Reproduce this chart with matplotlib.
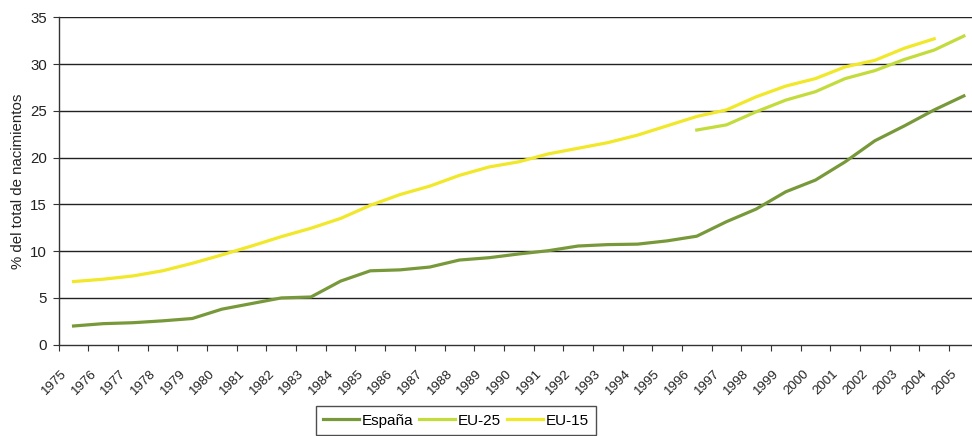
import numpy as np
import matplotlib
matplotlib.use('Agg')
import matplotlib.pyplot as plt
import matplotlib.transforms as mtransforms

plt.rcParams['font.family'] = ['Liberation Sans', 'DejaVu Sans']

years = list(range(1975, 2006))

espana = [2.0, 2.25, 2.35, 2.55, 2.8, 3.8, 4.4, 5.0, 5.1, 6.8, 7.9, 8.0, 8.3,
          9.05, 9.3, 9.7, 10.05, 10.55, 10.7, 10.75, 11.1, 11.6, 13.15, 14.5,
          16.35, 17.6, 19.55, 21.8, 23.4, 25.1, 26.6]

eu15 = [6.75, 7.0, 7.35, 7.9, 8.7, 9.6, 10.55, 11.55, 12.45, 13.5, 14.9, 16.05,
        16.95, 18.1, 19.0, 19.55, 20.4, 21.0, 21.6, 22.4, 23.4, 24.4, 25.1,
        26.5, 27.65, 28.45, 29.7, 30.4, 31.7, 32.7, np.nan]

eu25 = [np.nan] * 21 + [22.95, 23.5, 24.9, 26.15, 27.05, 28.45, 29.3, 30.5,
                         31.5, 33.0]

fig = plt.figure(figsize=(9.72, 4.36), dpi=100)
ax = fig.add_axes([0.0604, 0.2094, 0.9465, 0.7509])

x = np.arange(len(years))
ax.plot(x, espana, color='#78993a', lw=2.3, label='España', zorder=3)
ax.plot(x, eu25, color='#c3dc3c', lw=2.3, label='EU-25', zorder=3)
ax.plot(x, eu15, color='#f0e828', lw=2.3, label='EU-15', zorder=3)

ax.set_xlim(-0.5, len(years) - 0.5)
ax.set_ylim(0, 35)
ax.set_yticks(range(0, 36, 5))
for v in range(5, 36, 5):
    ax.axhline(v, color='#222222', lw=1.0, zorder=1)

ax.set_xticks(np.arange(len(years) + 1) - 0.5)
ax.set_xticklabels([])
ax.tick_params(axis='x', direction='out', length=4, color='#333333')
ax.tick_params(axis='y', direction='out', length=4, color='#333333',
               labelsize=10.8, labelcolor='#222222', pad=4.5)

offs = mtransforms.ScaledTranslation(-13 / 100, -23 / 100, fig.dpi_scale_trans)
for i, yr in enumerate(years):
    ax.text(i, 0, str(yr), rotation=45, ha='right', va='top',
            rotation_mode='anchor', fontsize=9.6, color='#222222',
            transform=ax.get_xaxis_transform() + offs)

for s in ['top', 'right']:
    ax.spines[s].set_visible(False)
for s in ['left', 'bottom']:
    ax.spines[s].set_color('#333333')
    ax.spines[s].set_linewidth(1.0)

ax.set_ylabel('% del total de nacimientos', fontsize=10.8, color='#222222')
ax.yaxis.set_label_coords(-0.037, 0.5)

leg = fig.legend(loc='upper center', bbox_to_anchor=(456 / 972, 1 - 406 / 436),
                 ncol=3, frameon=True, fancybox=False, fontsize=11,
                 handlelength=2.35, columnspacing=0.35, handletextpad=0.2,
                 borderpad=0.5, borderaxespad=0)
leg.get_frame().set_edgecolor('#222222')
leg.get_frame().set_linewidth(1.0)

fig.savefig('out.png', dpi=100)
